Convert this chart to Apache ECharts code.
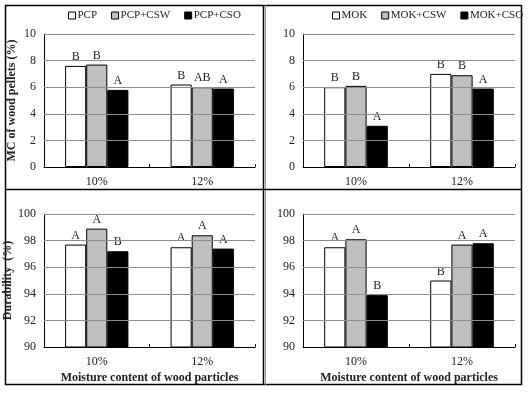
<!DOCTYPE html>
<html>
<head>
<meta charset="utf-8">
<script src="https://cdn.jsdelivr.net/npm/echarts@6/dist/echarts.min.js"></script>
<style>html,body{margin:0;padding:0;background:#fff}#c{width:530px;height:393px}</style>
</head>
<body>
<div id="c"></div>
<script>
var categories = ['10%', '12%'];
var mcTicks = [0, 2, 4, 6, 8, 10];
var durTicks = [90, 92, 94, 96, 98, 100];

// Top-left: MC of PCP pellets
var pcpNames = ['PCP', 'PCP+CSW', 'PCP+CSO'];
var mcPCP = [7.6, 6.2];
var mcPCPCSW = [7.7, 6.0];
var mcPCPCSO = [5.8, 5.9];
var mcPCPLetters = [['B', 'B'], ['B', 'AB'], ['A', 'A']];

// Top-right: MC of MOK pellets
var mokNames = ['MOK', 'MOK+CSW', 'MOK+CSO'];
var mcMOK = [6.0, 7.0];
var mcMOKCSW = [6.1, 6.9];
var mcMOKCSO = [3.1, 5.9];
var mcMOKLetters = [['B', 'B'], ['B', 'B'], ['A', 'A']];

// Bottom-left: durability PCP
var durPCP = [97.7, 97.5];
var durPCPCSW = [98.9, 98.4];
var durPCPCSO = [97.2, 97.4];
var durPCPLetters = [['A', 'A'], ['A', 'A'], ['B', 'A']];

// Bottom-right: durability MOK
var durMOK = [97.5, 95.0];
var durMOKCSW = [98.1, 97.7];
var durMOKCSO = [93.9, 97.8];
var durMOKLetters = [['A', 'B'], ['A', 'A'], ['B', 'A']];

var serif = 'Liberation Serif, Times New Roman, serif';
var fills = ['#ffffff', '#bfbfbf', '#000000'];
var gridColor = '#8c8c8c';

var chart = echarts.init(document.getElementById('c'));

var grids = [
  {left: 44, top: 34, width: 211, height: 133},
  {left: 303, top: 34, width: 212, height: 133},
  {left: 44, top: 214, width: 211, height: 133},
  {left: 303, top: 214, width: 212, height: 133}
];

function xAxis(i, withName) {
  return {
    type: 'category', gridIndex: i, data: categories,
    axisLine: {show: true, onZero: false, lineStyle: {color: '#000', width: 1}},
    axisTick: {show: true, inside: true, length: 3, lineStyle: {color: '#000'}},
    axisLabel: {fontFamily: serif, fontSize: 12, color: '#222', margin: 9},
    splitLine: {show: false},
    name: withName ? 'Moisture content of wood particles' : '',
    nameLocation: 'middle', nameGap: 25,
    nameTextStyle: {fontFamily: serif, fontSize: 12, fontWeight: 'bold', color: '#222'}
  };
}
function yAxis(i, ticks, name) {
  return {
    type: 'value', gridIndex: i, min: ticks[0], max: ticks[ticks.length - 1], interval: ticks[1] - ticks[0],
    axisLine: {show: true, onZero: false, lineStyle: {color: '#000', width: 1}},
    axisTick: {show: false},
    axisLabel: {fontFamily: serif, fontSize: 12, color: '#222', margin: 8},
    splitLine: {show: false},
    name: name || '', nameLocation: 'middle', nameGap: 26,
    nameTextStyle: {fontFamily: serif, fontSize: 12, fontWeight: 'bold', color: '#222'}
  };
}
function bar(name, data, letters, idx, gridIdx, ticks) {
  var s = {
    type: 'bar', name: name, data: data, xAxisIndex: gridIdx, yAxisIndex: gridIdx,
    barGap: '0%', barCategoryGap: '40%',
    itemStyle: {color: fills[idx], borderColor: '#000', borderWidth: 1},
    label: {
      show: true, position: 'top', distance: 3,
      formatter: function (p) { return letters[p.dataIndex]; },
      fontFamily: serif, fontSize: 12, color: '#222',
      backgroundColor: '#fff', padding: [0, 3]
    },
    emphasis: {disabled: true},
    animation: false
  };
  if (idx === 0) {
    // horizontal gridlines at the axis tick values
    s.markLine = {
      silent: true, symbol: 'none', animation: false,
      label: {show: false},
      lineStyle: {color: gridColor, width: 1, type: 'solid'},
      data: ticks.slice(1).map(function (v) { return {yAxis: v}; })
    };
  }
  return s;
}

var series = [];
[[mcPCP, mcPCPCSW, mcPCPCSO], [mcMOK, mcMOKCSW, mcMOKCSO], [durPCP, durPCPCSW, durPCPCSO], [durMOK, durMOKCSW, durMOKCSO]]
  .forEach(function (set, g) {
    var names = (g % 2 === 0) ? pcpNames : mokNames;
    var letters = [mcPCPLetters, mcMOKLetters, durPCPLetters, durMOKLetters][g];
    var ticks = g < 2 ? mcTicks : durTicks;
    set.forEach(function (d, k) { series.push(bar(names[k], d, letters[k], k, g, ticks)); });
  });

function legend(names, left) {
  return {
    data: names, left: left, top: 10, width: 300, padding: 0,
    itemWidth: 7, itemHeight: 7, itemGap: 14,
    icon: 'rect',
    textStyle: {fontFamily: serif, fontSize: 11, color: '#222', padding: [0, 0, 0, -3]},
    selectedMode: false,
    itemStyle: {borderColor: '#000', borderWidth: 1}
  };
}

function seg(x1, y1, x2, y2, color, w) {
  return {type: 'line', silent: true, shape: {x1: x1, y1: y1, x2: x2, y2: y2}, style: {stroke: color, lineWidth: w}};
}

chart.setOption({
  animation: false,
  backgroundColor: '#fff',
  grid: grids,
  xAxis: [xAxis(0, false), xAxis(1, false), xAxis(2, true), xAxis(3, true)],
  yAxis: [yAxis(0, mcTicks, 'MC of wood pellets (%)'), yAxis(1, mcTicks, ''), yAxis(2, durTicks, 'Durability  (%)'), yAxis(3, durTicks, '')],
  legend: [legend(pcpNames, 68), legend(mokNames, 332)],
  series: series,
  graphic: [
    seg(5, 5.5, 522, 5.5, '#000', 1.5),
    seg(5, 384.5, 522, 384.5, '#000', 1.5),
    seg(5.5, 5, 5.5, 385, '#000', 1.5),
    seg(521.5, 5, 521.5, 385, '#000', 1.5),
    seg(263.5, 5, 263.5, 385, '#000', 1.5),
    seg(265.5, 5, 265.5, 385, '#999', 1),
    seg(5, 189.5, 522, 189.5, '#000', 1.5)
  ]
});
</script>
</body>
</html>
